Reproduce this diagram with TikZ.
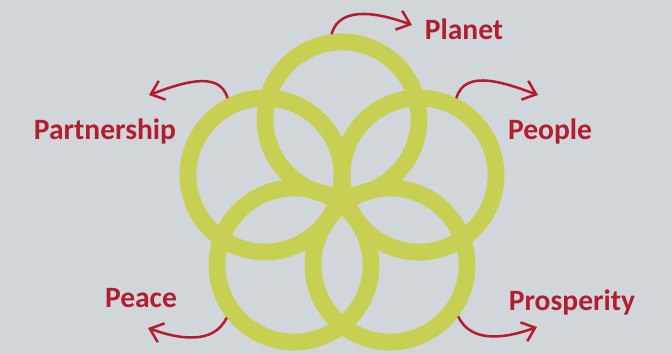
\documentclass[tikz,border=0pt]{standalone}
\usepackage{fontspec}
\setmainfont{Carlito}
\usepackage{tikz}
\usetikzlibrary{arrows.meta,calc,positioning}
\definecolor{bgGrey}{RGB}{209,214,218}
\definecolor{ringYellow}{RGB}{200,208,84}
\definecolor{goalRed}{RGB}{178,30,48}
\tikzstyle{ring}=[circle, draw=ringYellow, line width=0.42cm,
		minimum size=3.85cm, inner sep=0pt]
\tikzstyle{goal}=[text=goalRed, font=\fontsize{21}{25}\selectfont\bfseries,
		inner sep=0pt, anchor=base]
\tikzstyle{link}=[-{Straight Barb[length=3mm,width=5mm]}, draw=goalRed,
		line width=1.8pt]

\begin{document}
\begin{tikzpicture}[x=0.025cm,y=-0.025cm]

  \fill[bgGrey] (0,0) rectangle (671,354);
  \useasboundingbox (0,0) rectangle (671,354);

    % the five rings
    \node (Top) [ring] at (342,119) {};
    \node (Lft) [ring] at (265,175) {};
    \node (Rgt) [ring] at (419,175) {};
    \node (BLf) [ring] at (294,265) {};
    \node (BRg) [ring] at (390,265) {};

    % labels
    \node (Pla) [goal] at (464,40) {Planet};
    \node (Par) [goal] at (105,140) {Partnership};
    \node (Peo) [goal] at (550,140) {People};
    \node (Pea) [goal] at (141,307) {Peace};
    \node (Pro) [goal] at (572,310) {Prosperity};

    \coordinate (PlaTip) at (412,25);
    \coordinate (ParTip) at (149,95);
    \coordinate (PeoTip) at (538,95);
    \coordinate (PeaTip) at (148,328);
    \coordinate (ProTip) at (537,327);

    \draw[link] (Top.97) to[out=75,in=160] (PlaTip);
    \draw[link] (Lft.116) to[out=105,in=20] (ParTip);
    \draw[link] (Rgt.64) to[out=75,in=160] (PeoTip);
    \draw[link] (BLf.218) to[out=245,in=340] (PeaTip);
    \draw[link] (BRg.323) to[out=295,in=200] (ProTip);

  \end{tikzpicture}
\end{document}
